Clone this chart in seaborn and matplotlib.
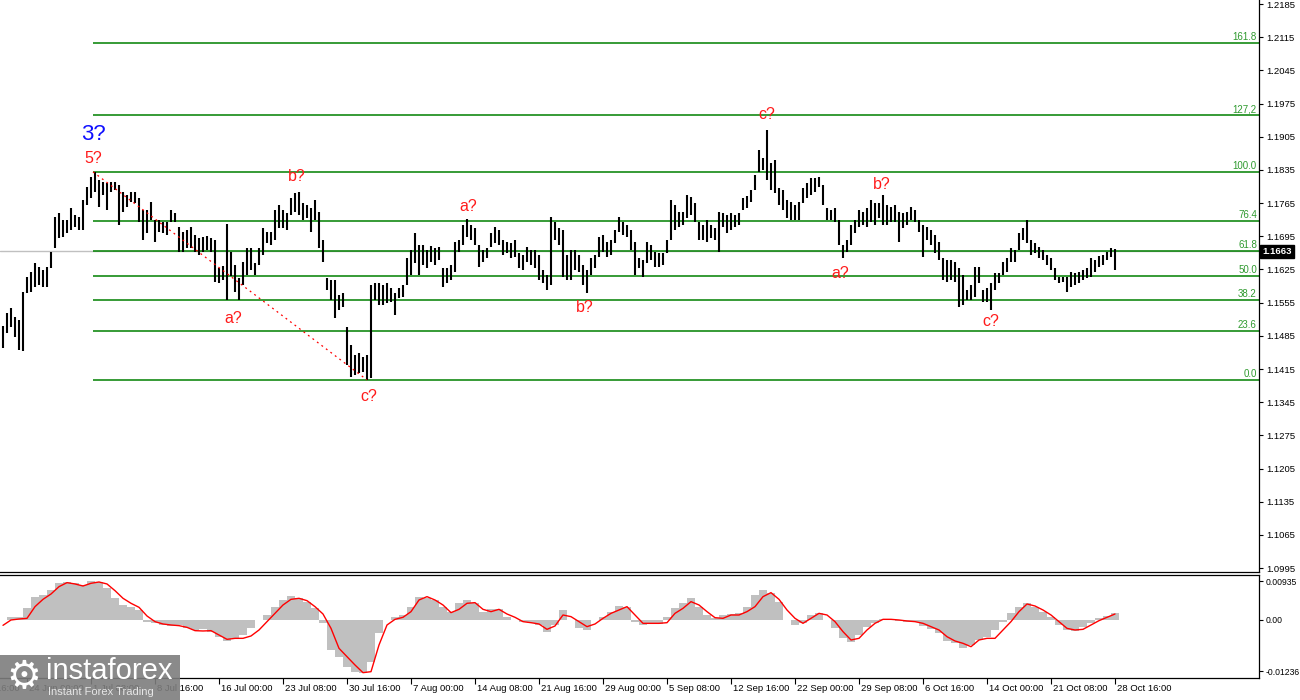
import matplotlib
matplotlib.use("Agg")
import matplotlib.pyplot as plt
from matplotlib.patches import Rectangle
from matplotlib.transforms import blended_transform_factory
import numpy as np
import seaborn as sns

# H4 EURUSD bars, one sampled bar out of two (high / low)
highs = [
    1.1506, 1.1533, 1.1544, 1.1525, 1.1518, 1.1578, 1.1609, 1.1620, 1.1639, 1.1630,
    1.1624, 1.1630, 1.1662, 1.1736, 1.1744, 1.1729, 1.1729, 1.1755, 1.1740, 1.1736,
    1.1772, 1.1799, 1.1820, 1.1831, 1.1814, 1.1810, 1.1808, 1.1810, 1.1810, 1.1803,
    1.1789, 1.1782, 1.1789, 1.1789, 1.1776, 1.1751, 1.1751, 1.1767, 1.1729, 1.1729,
    1.1725, 1.1725, 1.1751, 1.1744, 1.1715, 1.1704, 1.1708, 1.1715, 1.1698, 1.1691,
    1.1694, 1.1696, 1.1691, 1.1687, 1.1628, 1.1632, 1.1721, 1.1662, 1.1634, 1.1607,
    1.1641, 1.1670, 1.1670, 1.1639, 1.1670, 1.1713, 1.1704, 1.1704, 1.1751, 1.1761,
    1.1751, 1.1744, 1.1776, 1.1786, 1.1789, 1.1765, 1.1761, 1.1755, 1.1772, 1.1746,
    1.1687, 1.1607, 1.1603, 1.1603, 1.1571, 1.1575, 1.1504, 1.1466, 1.1445, 1.1449,
    1.1440, 1.1445, 1.1592, 1.1597, 1.1597, 1.1592, 1.1597, 1.1586, 1.1575, 1.1586,
    1.1592, 1.1649, 1.1666, 1.1702, 1.1677, 1.1677, 1.1666, 1.1675, 1.1670, 1.1672,
    1.1628, 1.1628, 1.1634, 1.1683, 1.1687, 1.1719, 1.1732, 1.1719, 1.1713, 1.1677,
    1.1666, 1.1670, 1.1702, 1.1715, 1.1708, 1.1687, 1.1683, 1.1681, 1.1687, 1.1660,
    1.1656, 1.1672, 1.1666, 1.1666, 1.1656, 1.1624, 1.1613, 1.1736, 1.1725, 1.1713,
    1.1708, 1.1656, 1.1666, 1.1666, 1.1656, 1.1634, 1.1624, 1.1649, 1.1656, 1.1694,
    1.1698, 1.1683, 1.1687, 1.1708, 1.1736, 1.1725, 1.1719, 1.1708, 1.1683, 1.1649,
    1.1645, 1.1683, 1.1677, 1.1662, 1.1660, 1.1660, 1.1687, 1.1772, 1.1761, 1.1746,
    1.1746, 1.1782, 1.1778, 1.1765, 1.1725, 1.1719, 1.1729, 1.1719, 1.1713, 1.1746,
    1.1744, 1.1740, 1.1744, 1.1740, 1.1744, 1.1776, 1.1780, 1.1793, 1.1824, 1.1877,
    1.1860, 1.1919, 1.1850, 1.1856, 1.1797, 1.1793, 1.1772, 1.1767, 1.1761, 1.1767,
    1.1797, 1.1808, 1.1818, 1.1818, 1.1820, 1.1803, 1.1755, 1.1751, 1.1755, 1.1729,
    1.1677, 1.1687, 1.1719, 1.1729, 1.1751, 1.1746, 1.1755, 1.1772, 1.1765, 1.1765,
    1.1782, 1.1761, 1.1757, 1.1761, 1.1746, 1.1744, 1.1746, 1.1757, 1.1751, 1.1729,
    1.1719, 1.1715, 1.1708, 1.1698, 1.1683, 1.1649, 1.1645, 1.1645, 1.1641, 1.1628,
    1.1613, 1.1582, 1.1592, 1.1630, 1.1630, 1.1582, 1.1586, 1.1597, 1.1618, 1.1618,
    1.1641, 1.1649, 1.1670, 1.1666, 1.1702, 1.1713, 1.1729, 1.1687, 1.1681, 1.1672,
    1.1666, 1.1656, 1.1649, 1.1628, 1.1609, 1.1609, 1.1609, 1.1620, 1.1618, 1.1620,
    1.1624, 1.1628, 1.1649, 1.1645, 1.1653, 1.1656, 1.1662, 1.1670, 1.1668,
]
lows = [
    1.1459, 1.1491, 1.1504, 1.1483, 1.1455, 1.1453, 1.1575, 1.1578, 1.1588, 1.1592,
    1.1588, 1.1588, 1.1628, 1.1670, 1.1691, 1.1694, 1.1702, 1.1708, 1.1715, 1.1708,
    1.1708, 1.1761, 1.1776, 1.1789, 1.1757, 1.1782, 1.1751, 1.1789, 1.1793, 1.1719,
    1.1746, 1.1757, 1.1767, 1.1765, 1.1725, 1.1687, 1.1702, 1.1729, 1.1683, 1.1704,
    1.1702, 1.1698, 1.1725, 1.1725, 1.1662, 1.1662, 1.1670, 1.1670, 1.1662, 1.1656,
    1.1662, 1.1666, 1.1662, 1.1599, 1.1597, 1.1603, 1.1561, 1.1611, 1.1578, 1.1561,
    1.1592, 1.1613, 1.1624, 1.1613, 1.1634, 1.1656, 1.1681, 1.1677, 1.1687, 1.1713,
    1.1713, 1.1708, 1.1740, 1.1746, 1.1740, 1.1729, 1.1734, 1.1704, 1.1729, 1.1670,
    1.1641, 1.1582, 1.1561, 1.1523, 1.1540, 1.1546, 1.1423, 1.1398, 1.1402, 1.1407,
    1.1409, 1.1392, 1.1396, 1.1561, 1.1550, 1.1550, 1.1554, 1.1556, 1.1529, 1.1565,
    1.1567, 1.1592, 1.1613, 1.1639, 1.1613, 1.1634, 1.1628, 1.1641, 1.1634, 1.1645,
    1.1588, 1.1597, 1.1603, 1.1620, 1.1662, 1.1677, 1.1694, 1.1687, 1.1677, 1.1630,
    1.1641, 1.1649, 1.1672, 1.1681, 1.1677, 1.1656, 1.1660, 1.1649, 1.1651, 1.1628,
    1.1624, 1.1641, 1.1634, 1.1628, 1.1603, 1.1597, 1.1582, 1.1592, 1.1687, 1.1677,
    1.1609, 1.1603, 1.1603, 1.1624, 1.1620, 1.1592, 1.1575, 1.1613, 1.1628, 1.1651,
    1.1662, 1.1651, 1.1656, 1.1681, 1.1704, 1.1698, 1.1694, 1.1666, 1.1613, 1.1628,
    1.1609, 1.1639, 1.1645, 1.1630, 1.1630, 1.1634, 1.1660, 1.1687, 1.1708, 1.1715,
    1.1719, 1.1734, 1.1740, 1.1725, 1.1687, 1.1687, 1.1683, 1.1691, 1.1687, 1.1662,
    1.1715, 1.1702, 1.1708, 1.1715, 1.1719, 1.1751, 1.1755, 1.1767, 1.1793, 1.1831,
    1.1835, 1.1814, 1.1793, 1.1786, 1.1761, 1.1751, 1.1734, 1.1729, 1.1729, 1.1729,
    1.1765, 1.1776, 1.1782, 1.1789, 1.1799, 1.1761, 1.1729, 1.1729, 1.1725, 1.1677,
    1.1649, 1.1662, 1.1677, 1.1702, 1.1715, 1.1719, 1.1715, 1.1725, 1.1719, 1.1734,
    1.1719, 1.1719, 1.1725, 1.1725, 1.1683, 1.1713, 1.1719, 1.1729, 1.1725, 1.1704,
    1.1651, 1.1687, 1.1677, 1.1660, 1.1645, 1.1603, 1.1599, 1.1603, 1.1599, 1.1546,
    1.1550, 1.1561, 1.1561, 1.1567, 1.1597, 1.1556, 1.1556, 1.1540, 1.1582, 1.1597,
    1.1613, 1.1620, 1.1641, 1.1641, 1.1666, 1.1687, 1.1681, 1.1656, 1.1660, 1.1649,
    1.1645, 1.1634, 1.1624, 1.1603, 1.1597, 1.1599, 1.1578, 1.1588, 1.1592, 1.1597,
    1.1603, 1.1607, 1.1609, 1.1620, 1.1630, 1.1634, 1.1645, 1.1651, 1.1624,
]

# MACD, one value out of four bars
macd_hist = [
    0.0, 0.00065, 0.00081, 0.00282, 0.00565, 0.00605, 0.00726, 0.00888, 0.00928, 0.00888,
    0.00847, 0.00952, 0.00928, 0.00767, 0.00525, 0.00363, 0.00323, 0.00242, -0.00040, -0.00081,
    -0.00121, -0.00145, -0.00121, -0.00202, -0.00242, -0.00226, -0.00282, -0.00404, -0.00500, -0.00444,
    -0.00363, -0.00202, 0.0, 0.00121, 0.00323, 0.00484, 0.00581, 0.00525, 0.00444, 0.00282,
    -0.00081, -0.00726, -0.00888, -0.01130, -0.01251, -0.01291, -0.01009, -0.00323, 0.0, 0.00065,
    0.00121, 0.00323, 0.00565, 0.00525, 0.00484, 0.00323, 0.00202, 0.00404, 0.00484, 0.00404,
    0.00202, 0.00258, 0.00258, 0.00081, 0.0, -0.00040, -0.00065, -0.00121, -0.00282, -0.00121,
    0.00242, 0.0, -0.00202, -0.00242, 0.0, 0.00081, 0.00202, 0.00339, 0.00323, -0.00040,
    -0.00121, -0.00097, -0.00097, 0.00081, 0.00282, 0.00404, 0.00525, 0.00323, 0.00121, 0.00040,
    0.00121, 0.00145, 0.00161, 0.00307, 0.00605, 0.00726, 0.00662, 0.00444, 0.0, -0.00121,
    -0.00081, 0.00121, 0.00161, 0.0, -0.00202, -0.00444, -0.00525, -0.00363, -0.00161, -0.00065,
    0.00016, 0.0, -0.00016, -0.00040, -0.00040, -0.00145, -0.00226, -0.00323, -0.00500, -0.00565,
    -0.00686, -0.00605, -0.00484, -0.00404, -0.00242, -0.00040, 0.00161, 0.00323, 0.00420, 0.00323,
    0.00202, 0.00081, -0.00121, -0.00242, -0.00258, -0.00161, -0.00081, 0.00040, 0.00097, 0.00178,
]
macd_signal = [
    -0.00129, 0.0, 0.00024, 0.00040, 0.00323, 0.00500, 0.00629, 0.00807, 0.00904, 0.00872,
    0.00823, 0.00888, 0.00920, 0.00872, 0.00710, 0.00525, 0.00404, 0.00307, 0.00097, -0.00040,
    -0.00097, -0.00121, -0.00137, -0.00178, -0.00258, -0.00266, -0.00258, -0.00363, -0.00468, -0.00444,
    -0.00444, -0.00387, -0.00242, -0.00040, 0.00161, 0.00363, 0.00500, 0.00525, 0.00468, 0.00323,
    0.00145, -0.00202, -0.00686, -0.00888, -0.01089, -0.01275, -0.01251, -0.00605, -0.00121, 0.00016,
    0.00065, 0.00202, 0.00484, 0.00565, 0.00484, 0.00363, 0.00178, 0.00258, 0.00404, 0.00420,
    0.00258, 0.00202, 0.00258, 0.00145, 0.00065, -0.00040, -0.00065, -0.00097, -0.00226, -0.00145,
    0.00121, 0.00081, -0.00040, -0.00161, -0.00097, 0.00040, 0.00161, 0.00242, 0.00323, 0.00121,
    -0.00081, -0.00081, -0.00081, -0.00065, 0.00161, 0.00282, 0.00444, 0.00363, 0.00202, 0.00056,
    0.00040, 0.00121, 0.00121, 0.00202, 0.00323, 0.00565, 0.00662, 0.00500, 0.00242, 0.00040,
    -0.00081, 0.00040, 0.00161, 0.00121, -0.00040, -0.00282, -0.00484, -0.00444, -0.00242, -0.00081,
    0.00016, 0.00016, 0.0, -0.00024, -0.00040, -0.00081, -0.00161, -0.00242, -0.00404, -0.00508,
    -0.00565, -0.00646, -0.00484, -0.00444, -0.00444, -0.00242, -0.00040, 0.00202, 0.00387, 0.00339,
    0.00242, 0.00121, -0.00040, -0.00202, -0.00242, -0.00226, -0.00121, -0.00016, 0.00065, 0.00145,
]

# time axis: H4 bar number of each label (last bar = 28 Oct 16:00)
date_labels = [
    "16 Jun 16:00", "24 Jun 00:00", "1 Jul 08:00", "8 Jul 16:00", "16 Jul 00:00",
    "23 Jul 08:00", "30 Jul 16:00", "7 Aug 00:00", "14 Aug 08:00", "21 Aug 16:00",
    "29 Aug 00:00", "5 Sep 08:00", "12 Sep 16:00", "22 Sep 00:00", "29 Sep 08:00",
    "6 Oct 16:00", "14 Oct 00:00", "21 Oct 08:00", "28 Oct 16:00",
]
date_bars = [-19, 13, 45, 77, 109, 141, 173, 205, 237, 269, 301, 333, 365, 397,
             429, 461, 493, 525, 557]

price_ticks = [1.2185, 1.2115, 1.2045, 1.1975, 1.1905, 1.1835, 1.1765, 1.1695,
               1.1625, 1.1555, 1.1485, 1.1415, 1.1345, 1.1275, 1.1205, 1.1135,
               1.1065, 1.0995]
macd_ticks = [0.00935, 0.0, -0.01236]
macd_tick_labels = ["0.00935", "0.00", "-0.01236"]

last_price = 1.1663

# fibonacci grid: from the 5? top to the c? low
fib_high, fib_low = 1.1831, 1.1392
fib_start_bar, fib_end_bar = 46, 183
fib_ratios = [0.0, 0.236, 0.382, 0.5, 0.618, 0.764, 1.0, 1.272, 1.618]
fib_labels = ["0.0", "23.6", "38.2", "50.0", "61.8", "76.4", "100.0", "127,2", "161.8"]

# wave marks: text, bar number, price
wave_marks = [
    ("5?", 46, 1.1860), ("b?", 148, 1.1822), ("a?", 116, 1.1521), ("c?", 184, 1.1358),
    ("a?", 233.5, 1.1757), ("b?", 292, 1.1544), ("c?", 383, 1.1951),
    ("a?", 419.5, 1.1616), ("b?", 440.5, 1.1805), ("c?", 495, 1.1516),
]
big_mark = ("3?", 46, 1.1909)

sns.set_theme(style="white")
plt.rcParams["font.family"] = ["Liberation Sans", "DejaVu Sans"]

W, H = 1300, 700
fig = plt.figure(figsize=(13, 7), dpi=100)
fig.patch.set_facecolor("white")
ax = fig.add_axes([0, 128 / H, 1259 / W, 572 / H])
ax2 = fig.add_axes([0, 22 / H, 1259 / W, 103 / H])

x_min, x_max = -0.5, 629

# price panel
bar_x = np.arange(len(highs)) * 2 + 1
ax.vlines(bar_x, lows, highs, color="black", lw=1.5, zorder=3)
ax.axhline(last_price, color="#c0c0c0", lw=1, zorder=1)

levels = [fib_low + r * (fib_high - fib_low) for r in fib_ratios]
ax.hlines(levels, fib_start_bar, x_max, color="#008000", lw=1.1, zorder=2)
for lvl, lab in zip(levels, fib_labels):
    ax.annotate(lab, xy=(x_max, lvl), xytext=(-1.5, 0.8), textcoords="offset points",
                ha="right", va="bottom", color="#2f9a2f", fontsize=7)
ax.plot([fib_start_bar, fib_end_bar], [fib_high, fib_low], color="red", lw=0.9,
        ls=(0, (1.5, 3)), zorder=4)

for txt, bx, py in wave_marks:
    ax.text(bx, py, txt, color="#ff1a1a", fontsize=11.5, ha="center", va="center", zorder=5)
ax.text(big_mark[1], big_mark[2], big_mark[0], color="#1010ff", fontsize=16,
        ha="center", va="center", zorder=5)

ax.set_xlim(x_min, x_max)
ax.set_ylim(1.09867, 1.21936)
ax.set_xticks([])
ax.set_yticks(price_ticks)
ax.set_yticklabels([f"{v:.4f}" for v in price_ticks])
ax.tick_params(axis="y", left=False, labelleft=False, right=True, labelright=True,
               direction="out", length=3, width=0.8, pad=2, labelsize=6.8,
               colors="black")
for side in ["top", "left"]:
    ax.spines[side].set_visible(False)
for side in ["right", "bottom"]:
    ax.spines[side].set_color("black")
    ax.spines[side].set_linewidth(0.9)

trans = blended_transform_factory(ax.transAxes, ax.transData)
ax.text(1.0025, last_price, f"{last_price:.4f}", transform=trans, color="white",
        fontsize=6.8, ha="left", va="center", fontweight="bold",
        bbox=dict(boxstyle="square,pad=0.25", fc="black", ec="black"))

# MACD panel
macd_x = np.arange(len(macd_hist)) * 4 + 1
ax2.bar(macd_x, macd_hist, width=4, color="#c0c0c0", linewidth=0, zorder=2)
sns.lineplot(x=macd_x, y=macd_signal, ax=ax2, color="red", lw=1, zorder=3)

ax2.set_xlim(x_min, x_max)
ax2.set_ylim(-0.01404, 0.01089)
ax2.set_yticks(macd_ticks)
ax2.set_yticklabels(macd_tick_labels)
ax2.tick_params(axis="y", left=False, labelleft=False, right=True, labelright=True,
                direction="out", length=3, width=0.8, pad=1.5, labelsize=6.2,
                colors="black")
ax2.set_xticks(date_bars[1:])
ax2.set_xticklabels([])
ax2.tick_params(axis="x", bottom=True, direction="out", length=4, width=0.8,
                colors="black")
for lab, bx in zip(date_labels, date_bars):
    ax2.annotate(lab, xy=(bx, 0), xycoords=("data", "axes fraction"),
                 xytext=(1.5, -7.3), textcoords="offset points", ha="left",
                 va="center", fontsize=6.8, color="black", annotation_clip=False,
                 family=["Liberation Sans Narrow", "Liberation Sans", "DejaVu Sans"])
ax2.spines["left"].set_visible(False)
for side in ["top", "right", "bottom"]:
    ax2.spines[side].set_color("black")
    ax2.spines[side].set_linewidth(0.9)

# watermark logo, bottom left
fig.add_artist(Rectangle((0, 0), 180 / W, 45 / H, transform=fig.transFigure,
                         fc="#7d7d7d", ec="none", alpha=0.9, zorder=10))
fig.text(24 / W, 23 / H, "\u2699", color="white", fontsize=28, ha="center",
         va="center", zorder=11, family=["DejaVu Sans"])
fig.text(46 / W, 29 / H, "instaforex", color="white", fontsize=21, ha="left",
         va="center", zorder=11)
fig.text(48 / W, 8 / H, "Instant Forex Trading", color="#e6e6e6", fontsize=8,
         ha="left", va="center", zorder=11)

fig.savefig("out.png", dpi=100, facecolor="white")
